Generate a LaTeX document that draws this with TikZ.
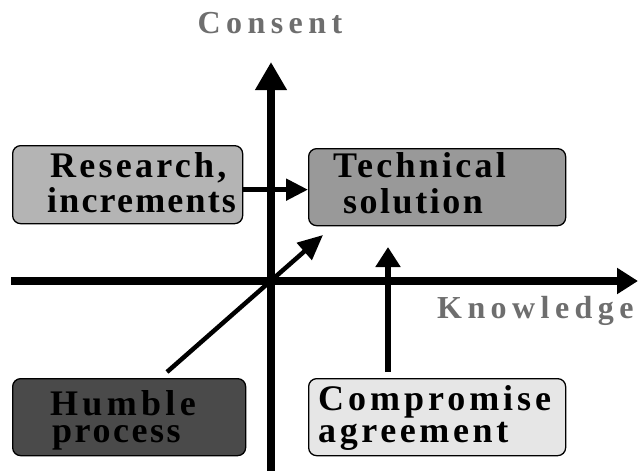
\documentclass[tikz,border=0pt]{standalone}
\usepackage{fontspec}
\setmainfont{Liberation Serif}
\newfontfamily\boxfont{Liberation Serif Bold}
\newfontfamily\axfont[LetterSpace=17]{Liberation Serif Bold}
\usetikzlibrary{arrows.meta}
\definecolor{axislbl}{HTML}{6E6E6E}
\definecolor{fillA}{HTML}{B4B4B4}
\definecolor{fillB}{HTML}{999999}
\definecolor{fillC}{HTML}{4A4A4A}
\definecolor{fillD}{HTML}{E6E6E6}
\tikzset{
  box/.style={draw=black, line width=1.3pt, rounded corners=8pt, inner sep=0pt, anchor=north west},
  txt/.style={inner sep=0pt, anchor=base west, font=\boxfont\fontsize{36}{36}\selectfont},
  ls/.style={font=\boxfont\fontsize{36}{36}\selectfont\addfontfeature{LetterSpace=#1}},
  axlbl/.style={inner sep=0pt, anchor=base, text=axislbl, font=\axfont\fontsize{32}{32}\selectfont},
  axisline/.style={line width=8pt},
  conn/.style={line width=5pt}
}
\begin{document}
\begin{tikzpicture}[x=1pt,y=-1pt]
\useasboundingbox (0,0) rectangle (638,471);
% boxes
\node[box, fill=fillA, minimum width=230pt, minimum height=78pt] (research) at (12,145) {};
\node[box, fill=fillB, minimum width=257pt, minimum height=77pt] (tech) at (308,148) {};
\node[box, fill=fillC, minimum width=233pt, minimum height=77pt] (humble) at (12,378) {};
\node[box, fill=fillD, minimum width=257pt, minimum height=77pt] (comp) at (308,378) {};
% axes
\coordinate (vbot) at (271,471);
\coordinate (vtop) at (271,62);
\coordinate (hleft) at (11,281);
\coordinate (hright) at (638,281);
\draw[axisline, -{Triangle[length=28pt,width=30pt]}] (vbot) -- (vtop);
\draw[axisline, -{Triangle[length=21pt,width=25pt]}] (hleft) -- (hright);
% connectors
\draw[conn, -{Triangle[length=22pt,width=21pt]}] ([yshift=-5pt]research.east) -- ([yshift=-2.5pt]tech.west);
\coordinate (d1) at (167,372);
\coordinate (d2) at (323,235);
\draw[line width=4.5pt, -{Triangle[length=25pt,width=22pt]}] (d1) -- (d2);
\coordinate (u1) at (388,372);
\coordinate (u2) at (388,247);
\draw[line width=6.5pt, -{Triangle[length=20pt,width=24pt]}] (u1) -- (u2);
% texts
\node[txt, ls=9] (r1) at (50,177) {Research,};
\node[txt, ls=6] (r2) at (47,212) {increments};
\node[txt, ls=9] (t1) at (333,177) {Technical};
\node[txt, ls=7] (t2) at (343,213) {solution};
\node[txt, ls=12] (h1) at (50,415) {Humble};
\node[txt, ls=7] (h2) at (52,442) {process};
\node[txt, ls=11] (c1) at (318,410) {Compromise};
\node[txt, ls=10] (c2) at (318,442) {agreement};
\node[axlbl] (consent) at (270,33) {Consent};
\node[axlbl, anchor=base west] (know) at (437,318) {Knowledge};
\end{tikzpicture}
\end{document}
